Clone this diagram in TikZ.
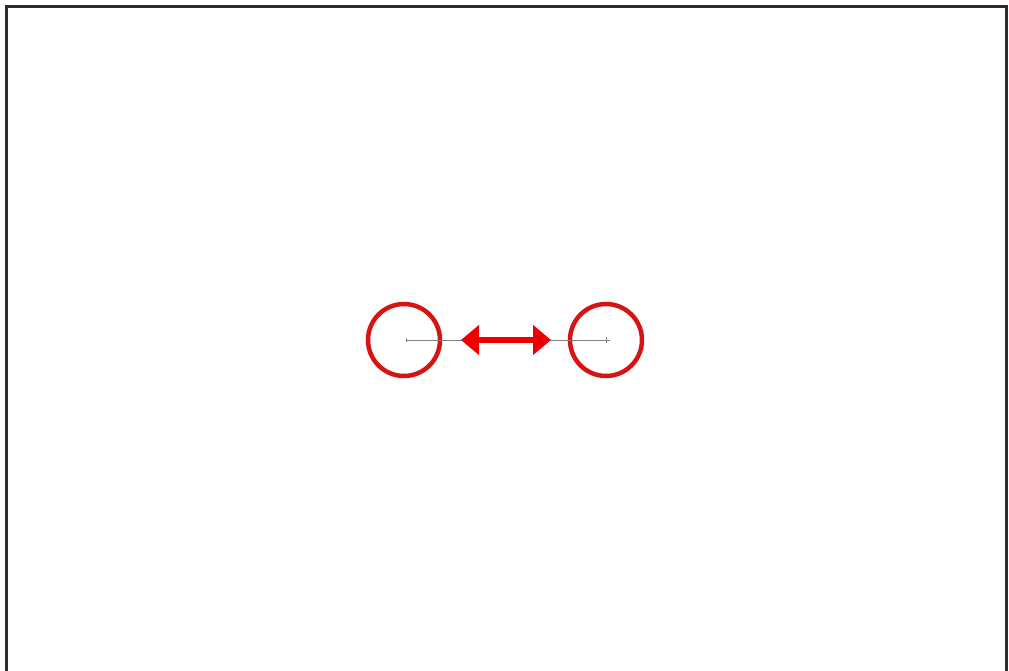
\documentclass[tikz,border=0pt]{standalone}
\usetikzlibrary{arrows.meta}
\definecolor{ringred}{RGB}{215,20,20}
\definecolor{arrred}{RGB}{238,0,0}
\definecolor{framegray}{RGB}{45,45,45}
\begin{document}
\begin{tikzpicture}[x=1pt,y=-1pt,
  ring/.style={circle,draw=ringred,line width=4.5pt,minimum size=72pt,inner sep=0pt},
  axis/.style={draw=gray,line width=0.9pt},
  dbl/.style={arrred,line width=6pt,{Triangle[width=29pt,length=18pt]}-{Triangle[width=29pt,length=18pt]}}]
\useasboundingbox (0,0) rectangle (1009,670);
\fill[white] (0,0) rectangle (1009,670);
\draw[framegray,line width=3pt] (6.5,671) -- (6.5,6.5) -- (1006.5,6.5) -- (1006.5,671);
\node[ring] (L) at (404,340) {};
\node[ring] (R) at (606,340) {};
\coordinate (lc) at (406,340);
\coordinate (rc) at (608,340);
\draw[axis] (lc) -- (rc);
\draw[gray,line width=0.8pt] (406,338) -- (406,342);
\draw[gray,line width=0.6pt] (606,337) -- (606,343) (604,340) -- (610,340);
\coordinate (a1) at (461,340);
\coordinate (a2) at (551,340);
\draw[dbl] (a1) -- (a2);
\end{tikzpicture}
\end{document}
